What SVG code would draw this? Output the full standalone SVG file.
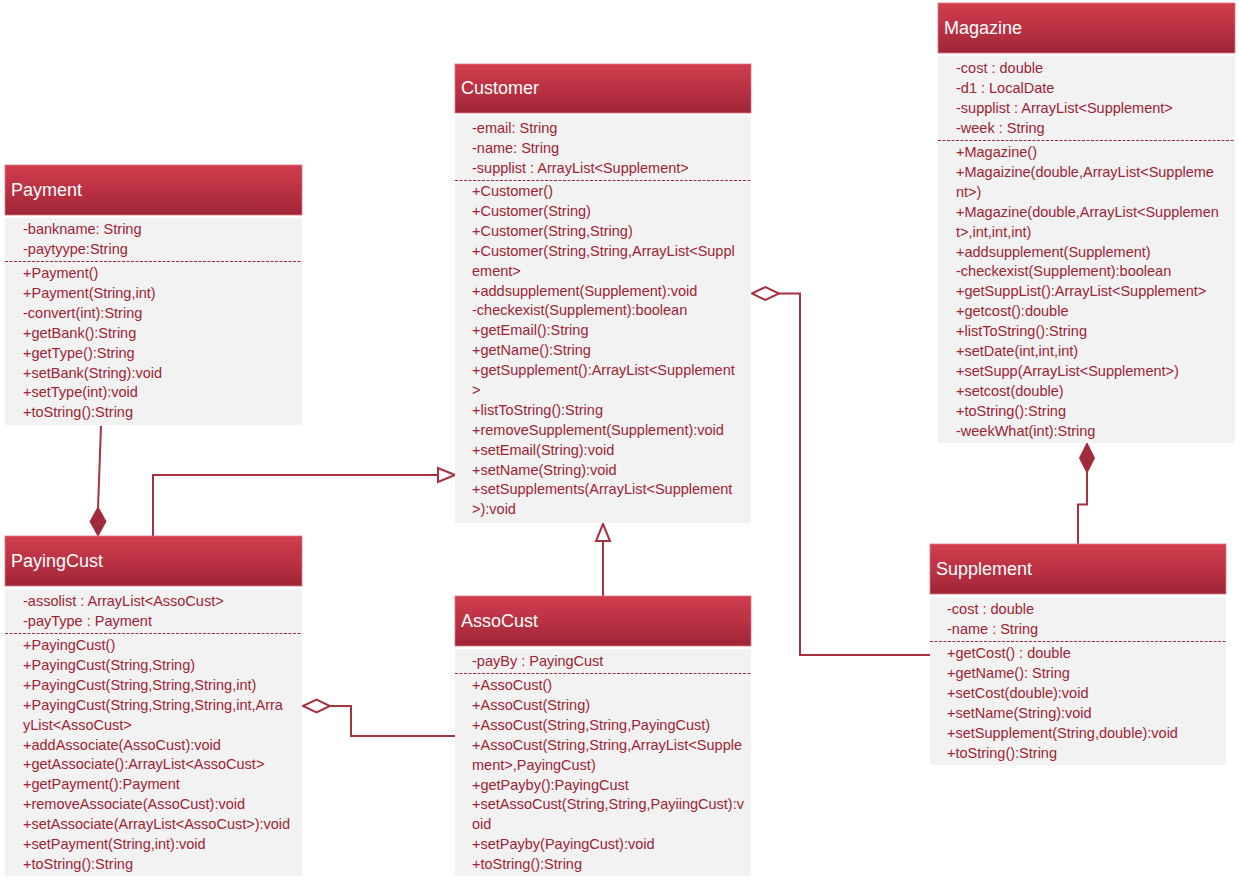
<svg xmlns="http://www.w3.org/2000/svg" width="1239" height="883" viewBox="0 0 1239 883">
<defs>
<linearGradient id="hg" x1="0" y1="0" x2="0" y2="1">
<stop offset="0" stop-color="#d03d4d"/>
<stop offset="0.5" stop-color="#ba3243"/>
<stop offset="1" stop-color="#9e2536"/>
</linearGradient>
<style>
.hd{fill:url(#hg);stroke:#dd7883;stroke-width:0.8}
.bd{fill:#f2f2f2}
.tt{font-family:"Liberation Sans",Arial,sans-serif;font-size:18px;fill:#ffffff}
.tx{font-family:"Liberation Sans",Arial,sans-serif;font-size:14.5px;fill:#9e2333}
.ds{stroke:#a32838;stroke-width:1;stroke-dasharray:3,1.5;fill:none}
.ln{stroke:#a8313f;stroke-width:2;fill:none}
.ho{fill:#ffffff;stroke:#a8313f;stroke-width:2}
.fi{fill:#a02b3a;stroke:#a02b3a;stroke-width:1}
</style>
</defs>
<rect width="1239" height="883" fill="#ffffff"/>

<g id="connectors">
<!-- Payment - PayingCust composition -->
<path class="ln" d="M101,426 L98,508"/>
<path class="fi" d="M98,507 L106,521.5 L98,536 L90,521.5 Z"/>
<!-- PayingCust - Customer generalization -->
<path class="ln" d="M153,536 L153,475 L438,475"/>
<path class="ho" d="M455,475 L438,468 L438,482 Z"/>
<!-- AssoCust - Customer generalization -->
<path class="ln" d="M603,596 L603,541"/>
<path class="ho" d="M603,524 L596,541 L610,541 Z"/>
<!-- Customer - Supplement aggregation -->
<path class="ln" d="M779,293.5 L800,293.5 L800,655 L930,655"/>
<path class="ho" d="M752,293.5 L765.5,287 L779,293.5 L765.5,300 Z"/>
<!-- PayingCust - AssoCust aggregation -->
<path class="ln" d="M330,706 L351,706 L351,736 L455,736"/>
<path class="ho" d="M303,706 L316.5,699.5 L330,706 L316.5,712.5 Z"/>
<!-- Magazine - Supplement composition -->
<path class="ln" d="M1087,472 L1087,504.5 L1078,504.5 L1078,544"/>
<path class="fi" d="M1087,443 L1094.5,458 L1087,473 L1079.5,458 Z"/>
</g>

<g id="Payment">
<rect class="hd" x="5" y="165" width="297" height="50"/>
<text class="tt" x="11" y="196">Payment</text>
<rect class="bd" x="5" y="218" width="297" height="207"/>
<text class="tx"><tspan x="23" y="234">-bankname: String</tspan><tspan x="23" y="254">-paytyype:String</tspan></text>
<line class="ds" x1="5" y1="261.5" x2="302" y2="261.5"/>
<text class="tx"><tspan x="23" y="278">+Payment()</tspan><tspan x="23" dy="19.9">+Payment(String,int)</tspan><tspan x="23" dy="19.9">-convert(int):String</tspan><tspan x="23" dy="19.9">+getBank():String</tspan><tspan x="23" dy="19.9">+getType():String</tspan><tspan x="23" dy="19.9">+setBank(String):void</tspan><tspan x="23" dy="19.9">+setType(int):void</tspan><tspan x="23" dy="19.9">+toString():String</tspan></text>
</g>

<g id="Customer">
<rect class="hd" x="455" y="64" width="296" height="49"/>
<text class="tt" x="461" y="94">Customer</text>
<rect class="bd" x="455" y="116" width="296" height="407"/>
<text class="tx"><tspan x="472" y="133">-email: String</tspan><tspan x="472" dy="20">-name: String</tspan><tspan x="472" dy="20">-supplist : ArrayList&lt;Supplement&gt;</tspan></text>
<line class="ds" x1="455" y1="180.5" x2="751" y2="180.5"/>
<text class="tx"><tspan x="472" y="196">+Customer()</tspan><tspan x="472" dy="19.9">+Customer(String)</tspan><tspan x="472" dy="19.9">+Customer(String,String)</tspan><tspan x="472" dy="19.9">+Customer(String,String,ArrayList&lt;Suppl</tspan><tspan x="472" dy="19.9">ement&gt;</tspan><tspan x="472" dy="19.9">+addsupplement(Supplement):void</tspan><tspan x="472" dy="19.9">-checkexist(Supplement):boolean</tspan><tspan x="472" dy="19.9">+getEmail():String</tspan><tspan x="472" dy="19.9">+getName():String</tspan><tspan x="472" dy="19.9">+getSupplement():ArrayList&lt;Supplement</tspan><tspan x="472" dy="19.9">&gt;</tspan><tspan x="472" dy="19.9">+listToString():String</tspan><tspan x="472" dy="19.9">+removeSupplement(Supplement):void</tspan><tspan x="472" dy="19.9">+setEmail(String):void</tspan><tspan x="472" dy="19.9">+setName(String):void</tspan><tspan x="472" dy="19.9">+setSupplements(ArrayList&lt;Supplement</tspan><tspan x="472" dy="19.9">&gt;):void</tspan></text>
</g>

<g id="Magazine">
<rect class="hd" x="938" y="3" width="297" height="50"/>
<text class="tt" x="944" y="34">Magazine</text>
<rect class="bd" x="938" y="56" width="297" height="387"/>
<text class="tx"><tspan x="956" y="73">-cost : double</tspan><tspan x="956" dy="20">-d1 : LocalDate</tspan><tspan x="956" dy="20">-supplist : ArrayList&lt;Supplement&gt;</tspan><tspan x="956" dy="20">-week : String</tspan></text>
<line class="ds" x1="938" y1="140.5" x2="1235" y2="140.5"/>
<text class="tx"><tspan x="956" y="157">+Magazine()</tspan><tspan x="956" dy="19.9">+Magaizine(double,ArrayList&lt;Suppleme</tspan><tspan x="956" dy="19.9">nt&gt;)</tspan><tspan x="956" dy="19.9">+Magazine(double,ArrayList&lt;Supplemen</tspan><tspan x="956" dy="19.9">t&gt;,int,int,int)</tspan><tspan x="956" dy="19.9">+addsupplement(Supplement)</tspan><tspan x="956" dy="19.9">-checkexist(Supplement):boolean</tspan><tspan x="956" dy="19.9">+getSuppList():ArrayList&lt;Supplement&gt;</tspan><tspan x="956" dy="19.9">+getcost():double</tspan><tspan x="956" dy="19.9">+listToString():String</tspan><tspan x="956" dy="19.9">+setDate(int,int,int)</tspan><tspan x="956" dy="19.9">+setSupp(ArrayList&lt;Supplement&gt;)</tspan><tspan x="956" dy="19.9">+setcost(double)</tspan><tspan x="956" dy="19.9">+toString():String</tspan><tspan x="956" dy="19.9">-weekWhat(int):String</tspan></text>
</g>

<g id="PayingCust">
<rect class="hd" x="5" y="536" width="297" height="50"/>
<text class="tt" x="11" y="567">PayingCust</text>
<rect class="bd" x="5" y="589" width="297" height="287"/>
<text class="tx"><tspan x="23" y="606">-assolist : ArrayList&lt;AssoCust&gt;</tspan><tspan x="23" dy="20">-payType : Payment</tspan></text>
<line class="ds" x1="5" y1="633.5" x2="302" y2="633.5"/>
<text class="tx"><tspan x="23" y="650">+PayingCust()</tspan><tspan x="23" dy="19.9">+PayingCust(String,String)</tspan><tspan x="23" dy="19.9">+PayingCust(String,String,String,int)</tspan><tspan x="23" dy="19.9">+PayingCust(String,String,String,int,Arra</tspan><tspan x="23" dy="19.9">yList&lt;AssoCust&gt;</tspan><tspan x="23" dy="19.9">+addAssociate(AssoCust):void</tspan><tspan x="23" dy="19.9">+getAssociate():ArrayList&lt;AssoCust&gt;</tspan><tspan x="23" dy="19.9">+getPayment():Payment</tspan><tspan x="23" dy="19.9">+removeAssociate(AssoCust):void</tspan><tspan x="23" dy="19.9">+setAssociate(ArrayList&lt;AssoCust&gt;):void</tspan><tspan x="23" dy="19.9">+setPayment(String,int):void</tspan><tspan x="23" dy="19.9">+toString():String</tspan></text>
</g>

<g id="AssoCust">
<rect class="hd" x="455" y="596" width="296" height="50"/>
<text class="tt" x="461" y="627">AssoCust</text>
<rect class="bd" x="455" y="649" width="296" height="227"/>
<text class="tx"><tspan x="472" y="666">-payBy : PayingCust</tspan></text>
<line class="ds" x1="455" y1="673.5" x2="751" y2="673.5"/>
<text class="tx"><tspan x="472" y="690">+AssoCust()</tspan><tspan x="472" dy="19.9">+AssoCust(String)</tspan><tspan x="472" dy="19.9">+AssoCust(String,String,PayingCust)</tspan><tspan x="472" dy="19.9">+AssoCust(String,String,ArrayList&lt;Supple</tspan><tspan x="472" dy="19.9">ment&gt;,PayingCust)</tspan><tspan x="472" dy="19.9">+getPayby():PayingCust</tspan><tspan x="472" dy="19.9">+setAssoCust(String,String,PayiingCust):v</tspan><tspan x="472" dy="19.9">oid</tspan><tspan x="472" dy="19.9">+setPayby(PayingCust):void</tspan><tspan x="472" dy="19.9">+toString():String</tspan></text>
</g>

<g id="Supplement">
<rect class="hd" x="930" y="544" width="296" height="50"/>
<text class="tt" x="936" y="575">Supplement</text>
<rect class="bd" x="930" y="597" width="296" height="168"/>
<text class="tx"><tspan x="947" y="614">-cost : double</tspan><tspan x="947" dy="20">-name : String</tspan></text>
<line class="ds" x1="930" y1="641.5" x2="1226" y2="641.5"/>
<text class="tx"><tspan x="947" y="658">+getCost() : double</tspan><tspan x="947" dy="20">+getName(): String</tspan><tspan x="947" dy="20">+setCost(double):void</tspan><tspan x="947" dy="20">+setName(String):void</tspan><tspan x="947" dy="20">+setSupplement(String,double):void</tspan><tspan x="947" dy="20">+toString():String</tspan></text>
</g>
</svg>
